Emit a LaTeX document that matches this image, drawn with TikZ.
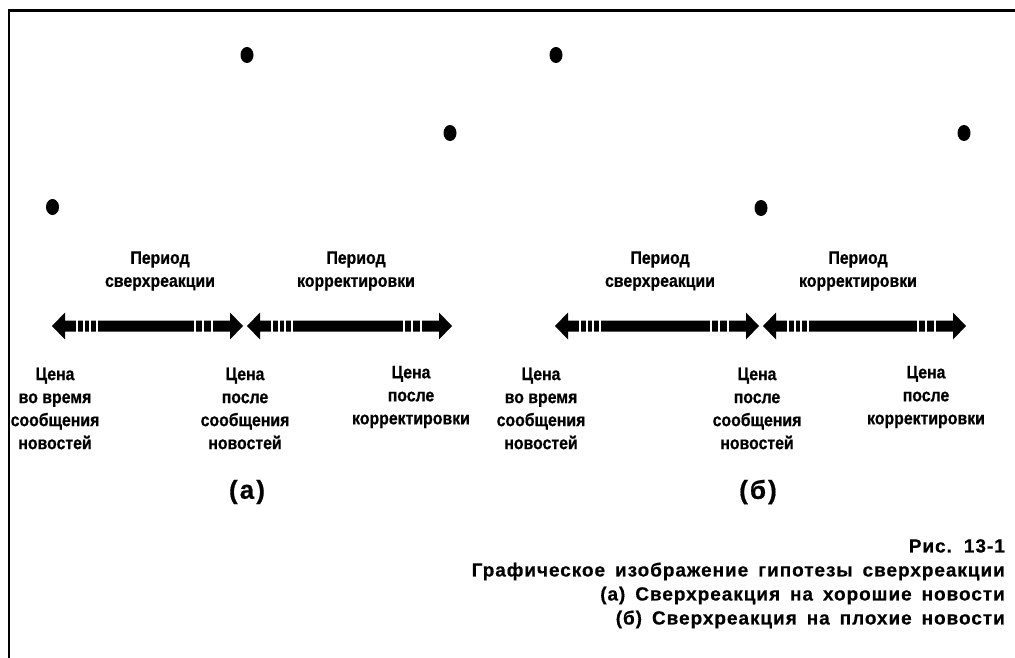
\documentclass[tikz,border=0pt]{standalone}
\usepackage{fontspec}
\usetikzlibrary{shapes.geometric}
\setmainfont{Liberation Sans}
\newfontfamily\labfont[FakeStretch=0.88,BoldFeatures={FakeBold=0.6}]{Liberation Sans}
\newfontfamily\capfont[LetterSpace=5,WordSpace=1.6,BoldFeatures={FakeBold=0.5}]{Liberation Sans}
\newfontfamily\subfont[LetterSpace=8,BoldFeatures={FakeBold=0.6}]{Liberation Sans}
\begin{document}
\begin{tikzpicture}[x=1pt,y=-1pt,
  dot/.style={fill=black,ellipse,inner sep=0pt,minimum width=13pt,minimum height=16pt},
  lab/.style={font=\labfont\bfseries\fontsize{18}{23}\selectfont,align=center,inner sep=0pt},
  sub/.style={font=\subfont\bfseries\fontsize{26}{28}\selectfont,inner sep=0pt},
  captext/.style={font=\capfont\bfseries\fontsize{19}{24}\selectfont,align=right,inner sep=0pt,anchor=north east}]
\useasboundingbox (0,0) rectangle (1015,658);
\fill[white] (0,0) rectangle (1015,658);
% frame
\draw[line width=2.5pt] (8,10.5) -- (1015,10.5);
\draw[line width=2pt] (9,10) -- (9,658);

\newcommand\DArrow[4]{% name x1 x2 y
  \coordinate (#1L) at (#2,#4);
  \coordinate (#1R) at (#3,#4);
  \fill (#1L) -- (#2+13,#4-13.5) -- (#2+13,#4-5.5) -- (#3-13,#4-5.5) -- (#3-13,#4-13.5) -- (#1R)
     -- (#3-13,#4+13.5) -- (#3-13,#4+5.5) -- (#2+13,#4+5.5) -- (#2+13,#4+13.5) -- cycle;
  \foreach \g in {25,32,38,45} \fill[white] (#2+\g-1,#4-6.5) rectangle (#2+\g+1,#4+6.5);
  \foreach \g in {48,40,31} \fill[white] (#3-\g-1,#4-6.5) rectangle (#3-\g+1,#4+6.5);
}

% (a)
\node[dot] (a1) at (52.5,207) {};
\node[dot] (a2) at (247,55) {};
\node[dot] (a3) at (450,133) {};
\DArrow{aa}{52}{243}{326}
\DArrow{ab}{247}{452}{326}
\node[lab] (pa1) at (160,271) {Период\\сверхреакции};
\node[lab] (pa2) at (356,271) {Период\\корректировки};
\node[lab] (ca1) at (55,408.5) {Цена\\во время\\сообщения\\новостей};
\node[lab] (ca2) at (245,408.5) {Цена\\после\\сообщения\\новостей};
\node[lab] (ca3) at (411,397) {Цена\\после\\корректировки};
\node[sub] (la) at (247,492) {(а)};

% (б)
\node[dot] (b1) at (556,55) {};
\node[dot] (b2) at (761,208) {};
\node[dot] (b3) at (964,133) {};
\DArrow{ba}{555}{759}{326}
\DArrow{bb}{763}{966}{326}
\node[lab] (pb1) at (660,271) {Период\\сверхреакции};
\node[lab] (pb2) at (858,271) {Период\\корректировки};
\node[lab] (cb1) at (541,408.5) {Цена\\во время\\сообщения\\новостей};
\node[lab] (cb2) at (757,408.5) {Цена\\после\\сообщения\\новостей};
\node[lab] (cb3) at (926,397) {Цена\\после\\корректировки};
\node[sub] (lb) at (758,492) {(б)};

% caption
\node[captext] (capt) at (1005,539) {Рис. 13-1\\Графическое изображение гипотезы сверхреакции\\(а) Сверхреакция на хорошие новости\\(б) Сверхреакция на плохие новости};
\end{tikzpicture}
\end{document}
